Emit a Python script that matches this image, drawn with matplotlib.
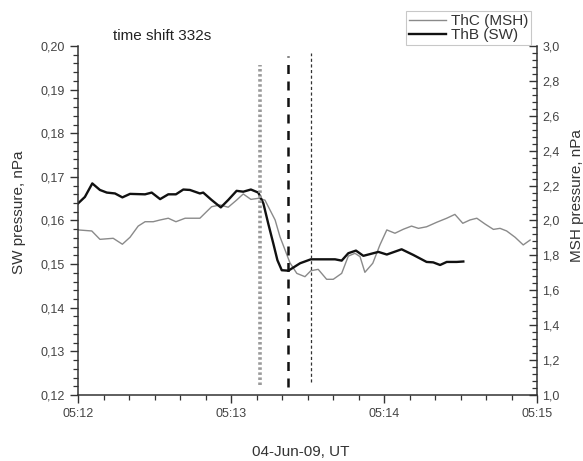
import matplotlib
matplotlib.use("Agg")
import matplotlib.pyplot as plt
from matplotlib.ticker import MultipleLocator, FuncFormatter
from matplotlib.lines import Line2D

plt.rcParams["font.family"] = ["Liberation Sans", "DejaVu Sans"]

# time in seconds after 05:12:00 UT, 04-Jun-09
thb_t = [0, 2.7, 5.6, 8.6, 11.3, 14.5, 17.4, 20.4, 26.3, 28.9, 32.2, 35.4, 38.4,
         41.3, 43.9, 47.8, 49.1, 52.4, 56.0, 58.9, 62.2, 64.8, 67.8, 70.7, 72.7,
         74.6, 76.6, 78.2, 79.9, 82.5, 87.1, 91.3, 96.2, 100.8, 103.4, 106.0,
         109.0, 111.9, 117.8, 121.1, 126.9, 131.5, 136.7, 139.3, 142.0, 144.6,
         148.5, 151.1]
thb_p = [0.1639, 0.1654, 0.1685, 0.1670, 0.1664, 0.1662, 0.1653, 0.1661, 0.1660,
         0.1664, 0.1649, 0.1660, 0.1660, 0.1671, 0.1670, 0.1662, 0.1664, 0.1647,
         0.1630, 0.1647, 0.1668, 0.1666, 0.1671, 0.1664, 0.1639, 0.1593, 0.1547,
         0.1509, 0.1486, 0.1485, 0.1502, 0.1511, 0.1511, 0.1511, 0.1508, 0.1525,
         0.1531, 0.1519, 0.1528, 0.1522, 0.1534, 0.1521, 0.1505, 0.1504, 0.1498,
         0.1505, 0.1505, 0.1506]

thc_t = [0, 5.4, 8.6, 13.8, 17.4, 20.4, 23.6, 26.3, 29.5, 32.2, 35.4, 38.4, 42.0,
         47.8, 52.4, 55.7, 58.9, 62.2, 64.8, 67.8, 70.7, 73.3, 75.3, 77.3, 79.2,
         81.2, 83.1, 85.8, 89.0, 91.3, 94.2, 97.5, 100.1, 103.4, 106.0, 108.6,
         110.6, 112.5, 115.6, 118.4, 121.1, 124.3, 127.6, 130.8, 133.5, 136.7,
         140.7, 144.6, 147.8, 150.9, 153.7, 156.4, 159.6, 162.9, 165.5, 168.1,
         171.4, 174.6, 177.3]
thc_p = [1.946, 1.940, 1.892, 1.898, 1.864, 1.904, 1.968, 1.993, 1.993, 2.003,
         2.013, 1.993, 2.013, 2.013, 2.079, 2.089, 2.076, 2.117, 2.152, 2.121,
         2.127, 2.117, 2.060, 2.003, 1.907, 1.831, 1.758, 1.697, 1.678, 1.712,
         1.720, 1.663, 1.663, 1.697, 1.796, 1.812, 1.793, 1.703, 1.755, 1.860,
         1.946, 1.927, 1.950, 1.968, 1.955, 1.964, 1.990, 2.013, 2.035, 1.984,
         2.003, 2.013, 1.980, 1.949, 1.955, 1.940, 1.904, 1.860, 1.888]

# marker times (s after 05:12) and vertical extents (SW pressure units)
mark_dotted = (71.4, 0.1223, 0.1956)
mark_thick = (82.4, 0.1219, 0.1977)
mark_thin = (91.4, 0.1230, 0.1984)

xticks = [0, 60, 120, 180]
xticklabels = ["05:12", "05:13", "05:14", "05:15"]

fig = plt.figure(figsize=(5.83, 4.61), dpi=100)
ax = fig.add_axes([0.1338, 0.1432, 0.7873, 0.7570])
ax2 = ax.twinx()
ax.set_zorder(ax2.get_zorder() + 1)
ax.patch.set_visible(False)

ax2.plot(thc_t, thc_p, color="#8a8a8a", lw=1.0)
ax.plot(thb_t, thb_p, color="#111111", lw=1.7)

ax.vlines(mark_dotted[0], mark_dotted[1], mark_dotted[2], color="#9a9a9a",
          lw=2.6, linestyles=(0, (0.7, 0.7)))
ax.vlines(mark_thick[0], mark_thick[1], mark_thick[2], color="#111111",
          lw=1.8, linestyles=(0, (3.6, 3.0)))
ax.vlines(mark_thin[0], mark_thin[1], mark_thin[2], color="#333333",
          lw=0.9, linestyles=(0, (2.5, 2.0)))

ax.set_xlim(0, 180)
ax.set_ylim(0.12, 0.20)
ax2.set_ylim(1.0, 3.0)

ax.set_xticks(xticks)
ax.set_xticklabels(xticklabels)
ax.xaxis.set_minor_locator(MultipleLocator(10))
ax.yaxis.set_major_locator(MultipleLocator(0.01))
ax.yaxis.set_minor_locator(MultipleLocator(0.002))
ax2.yaxis.set_major_locator(MultipleLocator(0.2))
ax2.yaxis.set_minor_locator(MultipleLocator(0.04))
ax.yaxis.set_major_formatter(FuncFormatter(lambda v, p: f"{v:.2f}".replace(".", ",")))
ax2.yaxis.set_major_formatter(FuncFormatter(lambda v, p: f"{v:.1f}".replace(".", ",")))

for a, d in ((ax, "out"), (ax2, "in")):
    a.spines["top"].set_visible(False)
    for s in a.spines.values():
        s.set_linewidth(1.1)
        s.set_color("#333333")
    a.tick_params(which="major", direction=d, length=6, width=1.0,
                  labelsize=9, colors="#333333", labelcolor="#444444")
    a.tick_params(which="minor", direction=d, length=3.5, width=0.9,
                  colors="#333333")
ax2.tick_params(which="major", pad=4)
ax.spines["right"].set_visible(False)
ax2.spines["left"].set_visible(False)
ax2.spines["bottom"].set_visible(False)

fig.text(19 / 583, 1 - 212 / 461, "SW pressure, nPa", rotation=90,
         ha="center", va="center", fontsize=11, color="#333333")
fig.text(577 / 583, 1 - 196 / 461, "MSH pressure, nPa", rotation=90,
         ha="center", va="center", fontsize=11, color="#333333")
fig.text(301 / 583, 1 - 452 / 461, "04-Jun-09, UT", ha="center", va="center",
         fontsize=11, color="#333333")
fig.text(113 / 583, 1 - 36 / 461, "time shift 332s", ha="left", va="center",
         fontsize=11, color="#222222")

handles = [Line2D([], [], color="#8a8a8a", lw=1.0),
           Line2D([], [], color="#111111", lw=1.7)]
leg = fig.legend(handles, ["ThC (MSH)", "ThB (SW)"], loc="upper right",
                 bbox_to_anchor=(531 / 583, 1 - 11 / 461), fontsize=11,
                 frameon=True, fancybox=False, edgecolor="#bbbbbb",
                 borderpad=0.2, labelspacing=0.0, handlelength=2.4,
                 handletextpad=0.3, borderaxespad=0)
leg.get_frame().set_linewidth(0.8)
for t in leg.get_texts():
    t.set_color("#333333")

fig.savefig("out.png", dpi=100)
